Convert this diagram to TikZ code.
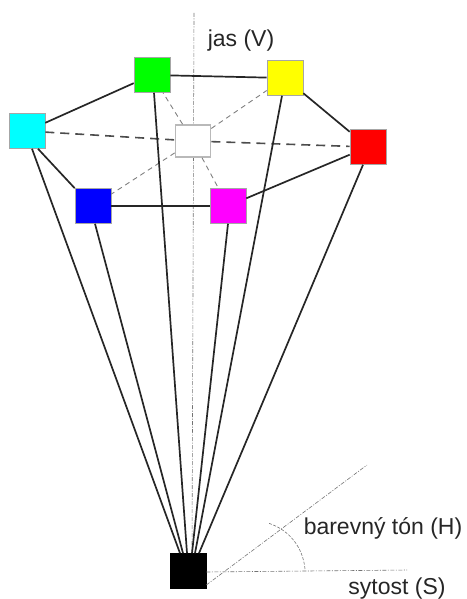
\documentclass[tikz,border=0pt]{standalone}
\usepackage{fontspec}
\setmainfont{Liberation Sans}
\begin{document}
\begin{tikzpicture}[x=1pt,y=-1pt,
  cbox/.style={draw=gray!70, line width=0.6pt, minimum width=36pt, minimum height=35pt, inner sep=0pt},
  edge/.style={line width=1.7pt, black!85},
  dedge/.style={line width=1.6pt, black!70, dash pattern=on 9pt off 6pt},
  tdedge/.style={line width=0.9pt, black!50, dash pattern=on 5pt off 4pt},
  axis/.style={line width=0.6pt, black!55, dash pattern=on 4pt off 1.5pt on 1pt off 1.5pt},
  lbl/.style={font=\fontsize{23}{26}\selectfont, black!85, inner sep=0pt}]
\useasboundingbox (0,0) rectangle (466,599);
% axis
\coordinate (vtop) at (194,13);
\coordinate (vbot) at (192,553);
\draw[axis] (vtop) -- (vbot);
% nodes
\node[cbox, fill={rgb,255:red,0;green,255;blue,0}] (G) at (152,75) {};
\node[cbox, fill={rgb,255:red,255;green,255;blue,0}] (Y) at (285,78) {};
\node[cbox, fill={rgb,255:red,0;green,255;blue,255}] (C) at (27,131) {};
\node[cbox, fill=white, draw=gray!55, line width=1.6pt, minimum width=35pt, minimum height=32pt] (W) at (193,141) {};
\node[cbox, fill={rgb,255:red,255;green,0;blue,0}] (R) at (368,147) {};
\node[cbox, fill={rgb,255:red,0;green,0;blue,255}] (B) at (93,206) {};
\node[cbox, fill={rgb,255:red,255;green,0;blue,255}] (M) at (228,206) {};
\node[cbox, fill=black, draw=black] (K) at (188,571) {};
% top hexagon
\draw[edge] (G) -- (Y);
\draw[edge] (G) -- (C);
\draw[edge] (Y) -- (R);
\draw[edge] ([xshift=11pt]C.south) -- (B.north west);
\draw[edge] (B) -- (M);
\draw[edge] (M) -- (R);
% dashed to white
\draw[dedge] (C) -- (W);
\draw[dedge] (W) -- (R);
\draw[tdedge] (W) -- (G);
\draw[tdedge] (W) -- (Y);
\draw[tdedge] (W) -- (B);
\draw[tdedge] (W) -- (M);
% lines to black
\draw[edge] ([xshift=5pt]C.south) -- ([xshift=-8pt]K.north);
\draw[edge] ([xshift=2pt]B.south) -- ([xshift=-5pt]K.north);
\draw[edge] ([xshift=2pt]G.south) -- ([xshift=-1pt]K.north);
\draw[edge] (M.south) -- ([xshift=4pt]K.north);
\draw[edge] ([xshift=-3pt]Y.south) -- ([xshift=7pt]K.north);
\draw[edge] ([xshift=-5pt]R.south) -- ([xshift=11pt]K.north);
% H and S axes
\coordinate (hend) at (367,465);
\coordinate (send) at (407,570);
\draw[axis] ([yshift=-14pt]K.east) -- (hend);
\draw[axis] ([yshift=-1pt]K.east) -- (send);
\coordinate (a1) at (305,569);
\coordinate (a2) at (268,523);
\draw[line width=0.6pt, black!55, dash pattern=on 3pt off 1.5pt] (a1) .. controls (303,548) and (290,530) .. (a2);
% labels
\node[lbl] (tV) at (241,41) {jas (V)};
\node[lbl] (tH) at (383,528) {barevný tón (H)};
\node[lbl] (tS) at (397,589) {sytost (S)};
\end{tikzpicture}
\end{document}
